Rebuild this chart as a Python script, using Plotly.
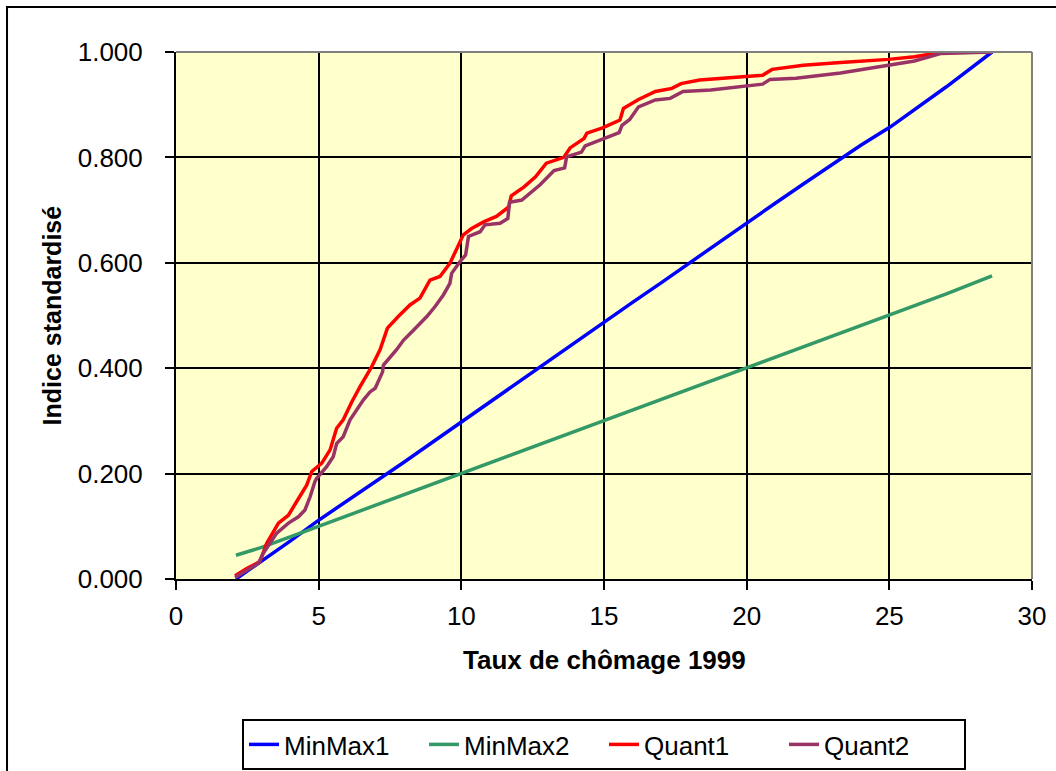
import plotly.graph_objects as go

# ---- data ----
minmax1_x = [2.1, 3.0, 4.0, 4.93, 6.0, 7.0, 8.0, 9.0, 10.0, 11.0, 12.0, 13.0, 14.0, 15.0, 15.5, 16.0,
             17.0, 18.0, 19.0, 19.97, 21.0, 22.0, 23.29, 24.0, 25.04, 26.0, 27.0, 28.6]
minmax1_y = [0.000, 0.034, 0.072, 0.109, 0.148, 0.184, 0.222, 0.260, 0.298, 0.336, 0.373, 0.411, 0.449,
             0.487, 0.507, 0.525, 0.562, 0.600, 0.637, 0.675, 0.713, 0.750, 0.798, 0.823, 0.858, 0.896,
             0.934, 1.000]

minmax2_x = [2.1, 3.0, 4.0, 5.0, 6.0, 7.0, 8.0, 9.0, 10.0, 11.0, 12.0, 13.0, 14.0, 15.0, 16.0, 17.0,
             18.0, 19.0, 20.0, 21.0, 22.0, 23.0, 24.0, 25.0, 26.0, 27.0, 28.6]
minmax2_y = [0.045, 0.060, 0.080, 0.100, 0.121, 0.140, 0.160, 0.180, 0.200, 0.220, 0.240, 0.261, 0.280,
             0.300, 0.320, 0.340, 0.360, 0.380, 0.400, 0.421, 0.440, 0.460, 0.480, 0.500, 0.521, 0.541,
             0.575]

quant1_x = [2.07, 2.48, 2.94, 3.18, 3.59, 3.94, 4.23, 4.58, 4.76, 5.11, 5.40, 5.63, 5.86, 6.16, 6.45,
            6.86, 7.15, 7.41, 7.79, 8.20, 8.55, 8.90, 9.25, 9.60, 10.07, 10.36, 10.80, 11.23, 11.66,
            11.75, 12.20, 12.60, 12.98, 13.59, 13.81, 14.30, 14.40, 14.95, 15.56, 15.68, 16.21, 16.80,
            17.38, 17.70, 18.35, 19.39, 20.56, 20.89, 21.99, 23.29, 24.97, 25.88, 26.79, 28.60]
quant1_y = [0.006, 0.020, 0.033, 0.068, 0.106, 0.121, 0.147, 0.178, 0.204, 0.220, 0.245, 0.286, 0.302,
            0.336, 0.365, 0.403, 0.435, 0.476, 0.498, 0.520, 0.533, 0.567, 0.574, 0.599, 0.653, 0.665,
            0.678, 0.688, 0.706, 0.727, 0.744, 0.763, 0.789, 0.800, 0.818, 0.836, 0.846, 0.856, 0.871,
            0.893, 0.910, 0.925, 0.931, 0.940, 0.947, 0.951, 0.956, 0.967, 0.975, 0.980, 0.986, 0.991,
            0.999, 1.000]

quant2_x = [2.07, 2.48, 2.89, 3.06, 3.29, 3.53, 3.94, 4.29, 4.52, 4.70, 4.87, 4.93, 5.28, 5.51, 5.63,
            5.86, 6.10, 6.33, 6.57, 6.80, 6.98, 7.24, 7.27, 7.73, 7.97, 8.32, 8.79, 9.08, 9.37, 9.60,
            9.66, 9.95, 10.15, 10.25, 10.66, 10.83, 11.36, 11.63, 11.69, 12.12, 12.58, 12.76, 13.25,
            13.62, 13.69, 14.21, 14.34, 14.98, 15.53, 15.63, 15.90, 16.21, 16.80, 17.32, 17.77, 18.74,
            19.91, 20.56, 20.82, 21.73, 23.29, 24.58, 25.49, 25.88, 26.79, 28.60]
quant2_y = [0.003, 0.017, 0.030, 0.049, 0.068, 0.087, 0.106, 0.118, 0.131, 0.156, 0.185, 0.191, 0.213,
            0.232, 0.257, 0.270, 0.302, 0.321, 0.340, 0.355, 0.362, 0.393, 0.406, 0.435, 0.453, 0.472,
            0.498, 0.517, 0.539, 0.561, 0.580, 0.602, 0.615, 0.650, 0.659, 0.672, 0.675, 0.684, 0.715,
            0.719, 0.740, 0.748, 0.775, 0.780, 0.801, 0.810, 0.822, 0.836, 0.847, 0.861, 0.872, 0.896,
            0.909, 0.912, 0.925, 0.928, 0.935, 0.939, 0.948, 0.950, 0.960, 0.971, 0.978, 0.983, 0.997,
            1.000]

series = [
    ("MinMax1", minmax1_x, minmax1_y, "#0000FF"),
    ("MinMax2", minmax2_x, minmax2_y, "#339966"),
    ("Quant1", quant1_x, quant1_y, "#FF0000"),
    ("Quant2", quant2_x, quant2_y, "#993366"),
]

x_title = "Taux de chômage 1999"
y_title = "Indice standardisé"

FONT = "Liberation Sans, Arial, sans-serif"

fig = go.Figure()
for name, xs, ys, col in series:
    fig.add_trace(go.Scatter(x=xs, y=ys, name=name, mode="lines",
                             line=dict(color=col, width=3.5)))

fig.update_layout(
    width=1056, height=771,
    margin=dict(l=176, r=24, t=52, b=192, autoexpand=False),
    paper_bgcolor="white",
    plot_bgcolor="#FFFFCC",
    font=dict(family=FONT, color="black", size=26),
    showlegend=True,
    legend=dict(orientation="h", x=0.5, xanchor="center",
                yref="container", y=(771 - 719) / 771, yanchor="top",
                bgcolor="white", bordercolor="black", borderwidth=2,
                font=dict(size=26, family=FONT), entrywidth=135, entrywidthmode="pixels",
                traceorder="normal"),
    xaxis=dict(range=[0, 30], tick0=0, dtick=5, showgrid=True, gridcolor="black", gridwidth=2,
               showline=True, linecolor="black", linewidth=2, ticks="outside", ticklen=9,
               tickwidth=2, tickcolor="black", zeroline=False, ticklabelstandoff=4,
               tickfont=dict(size=26, family=FONT), automargin=False),
    yaxis=dict(range=[0, 1], tick0=0, dtick=0.2, tickformat=".3f", showgrid=True, gridcolor="black",
               gridwidth=2, showline=True, linecolor="black", linewidth=2, ticks="outside",
               ticklen=9, tickwidth=2, tickcolor="black", zeroline=False, ticklabelstandoff=17,
               tickfont=dict(size=26, family=FONT), automargin=False),
    annotations=[
        dict(text=f"<b>{x_title}</b>", xref="paper", yref="paper", x=0.5, y=-0.154,
             xanchor="center", yanchor="middle", showarrow=False, font=dict(size=26, family=FONT)),
        dict(text=f"<b>{y_title}</b>", xref="paper", yref="paper", x=-0.145, y=0.5,
             xanchor="center", yanchor="middle", textangle=-90, showarrow=False,
             font=dict(size=25, family=FONT)),
    ],
    shapes=[
        dict(type="line", xref="paper", yref="paper", x0=0, x1=1, y0=1, y1=1,
             line=dict(color="#808080", width=2), layer="above"),
        dict(type="line", xref="paper", yref="paper", x0=1, x1=1, y0=0, y1=1,
             line=dict(color="#808080", width=2), layer="above"),
        dict(type="rect", xref="paper", yref="paper", x0=-0.1974, x1=1.1, y0=-0.45, y1=1.0854,
             line=dict(color="black", width=2), layer="below"),
    ],
)

fig.write_html("out.html", config={"displayModeBar": False},
               post_script="document.body.style.margin='0';document.body.style.padding='0';")
